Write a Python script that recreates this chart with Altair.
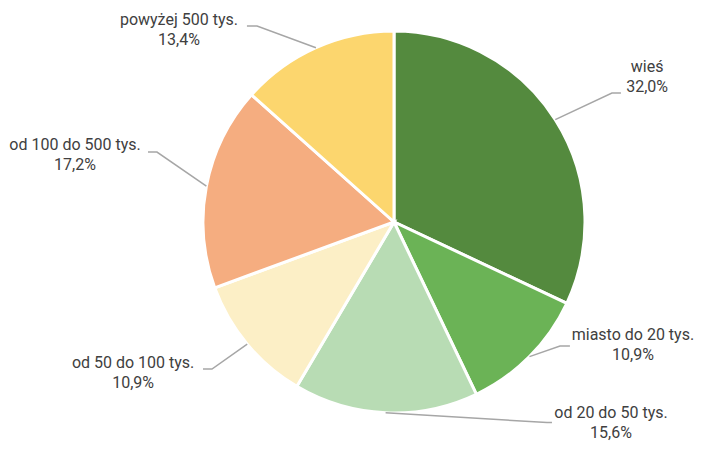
import altair as alt
import numpy as np
import pandas as pd

# data
categories = ["wieś", "miasto do 20 tys.", "od 20 do 50 tys.", "od 50 do 100 tys.",
              "od 100 do 500 tys.", "powyżej 500 tys."]
values = [32.0, 10.9, 15.6, 10.9, 17.2, 13.4]
labels = ["32,0%", "10,9%", "15,6%", "10,9%", "17,2%", "13,4%"]
colors = ["#548a3e", "#6bb356", "#b8dcb4", "#fcefc6", "#f5ad80", "#fcd66e"]

# layout (in pie-radius units relative to centre, y up)
elbow_x = [1.141, 0.869, 0.801, -0.953, -1.241, -0.717]
elbow_y = [0.675, -0.649, -1.050, -0.770, 0.366, 1.026]
end_x = [1.188, 0.921, 0.827, -1.000, -1.288, -0.770]
label_x = [1.325, 1.251, 1.136, -1.366, -1.670, -1.126]
label_y = [0.812, -0.592, -1.002, -0.738, 0.403, 1.058]

R = 191
W, H = 688, 436
CX, CY = 386, 214

font = "Roboto"

vals = np.array(values)
cum = np.cumsum(vals) - vals / 2
mid = cum / vals.sum() * 2 * np.pi

pie_df = pd.DataFrame({"cat": categories, "value": values, "idx": range(len(values))})

rows = []
for i, c in enumerate(categories):
    sx, sy = np.sin(mid[i]), np.cos(mid[i])
    rows.append({"cat": c, "o": 0, "x": sx, "y": sy})
    rows.append({"cat": c, "o": 1, "x": elbow_x[i], "y": elbow_y[i]})
    rows.append({"cat": c, "o": 2, "x": end_x[i], "y": elbow_y[i]})
lead_df = pd.DataFrame(rows)

lab_df = pd.DataFrame({"cat": categories, "txt": [f"{c}\n{l}" for c, l in zip(categories, labels)],
                       "x": label_x, "y": label_y})

xs = alt.Scale(domain=[-CX / R, (W - CX) / R], range=[0, W], nice=False, zero=False)
ys = alt.Scale(domain=[-(H - CY) / R, CY / R], range=[H, 0], nice=False, zero=False)

pie = alt.Chart(pie_df).mark_arc(outerRadius=R, stroke="white", strokeWidth=3).encode(
    theta=alt.Theta("value:Q", stack=True),
    order=alt.Order("idx:Q"),
    color=alt.Color("cat:N", scale=alt.Scale(domain=categories, range=colors), legend=None),
    x=alt.value(CX),
    y=alt.value(CY),
)

leaders = alt.Chart(lead_df).mark_line(color="#a6a6a6", strokeWidth=1.5).encode(
    x=alt.X("x:Q", scale=xs, axis=None),
    y=alt.Y("y:Q", scale=ys, axis=None),
    detail="cat:N",
    order="o:Q",
)

text = alt.Chart(lab_df).mark_text(font=font, fontSize=16, color="#404040", lineBreak="\n",
                                   align="center", baseline="middle", lineHeight=20).encode(
    x=alt.X("x:Q", scale=xs, axis=None),
    y=alt.Y("y:Q", scale=ys, axis=None),
    text="txt:N",
)

chart = alt.layer(pie, leaders, text).properties(
    width=W, height=H, autosize=alt.AutoSizeParams(type="none"), padding=0
).configure_view(stroke=None)

chart.save("out.html", embed_options={"renderer": "svg", "actions": False})
